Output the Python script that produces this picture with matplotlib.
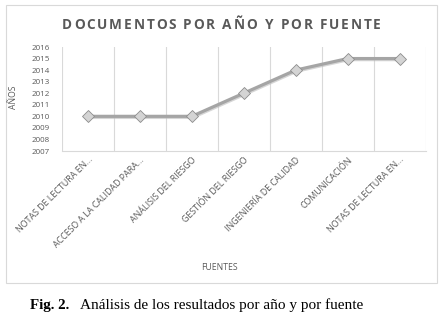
import matplotlib
matplotlib.use("Agg")
import matplotlib.pyplot as plt
import matplotlib.patheffects as pe
from matplotlib.patches import Rectangle
from matplotlib.textpath import TextPath
from matplotlib.font_manager import FontProperties
import numpy as np

categories = ["NOTAS DE LECTURA EN...", "ACCESO A LA CALIDAD PARA...", "ANÁLISIS DEL RIESGO",
              "GESTIÓN DEL RIESGO", "INGENIERÍA DE CALIDAD", "COMUNICACIÓN", "NOTAS DE LECTURA EN..."]
years = [2010, 2010, 2010, 2012, 2014, 2015, 2015]
yticks = list(range(2007, 2017))
title = "DOCUMENTOS POR AÑO Y POR FUENTE"

W, H = 441, 319
fig = plt.figure(figsize=(W / 100, H / 100), dpi=100)

def fx(px): return px / W
def fy(py): return 1 - py / H

# chart border
fig.patches.append(Rectangle((fx(5.5), fy(283)), fx(436.5) - fx(5.5), fy(5) - fy(283),
                             transform=fig.transFigure, fill=False, edgecolor="#D9D9D9", lw=0.8))

ax = fig.add_axes([fx(62), fy(151), fx(425.5) - fx(62), fy(47) - fy(151)])
x = np.arange(len(categories))
ax.set_xlim(-0.5, len(categories) - 0.5)
ax.set_ylim(2007, 2016)

ax.plot(x, years, color="#A5A5A5", lw=2.3, solid_joinstyle="round", solid_capstyle="round", zorder=3,
        path_effects=[pe.SimpleLineShadow(offset=(0.6, -0.8), shadow_color="#BBBBBB", alpha=0.6), pe.Normal()])
ax.plot(x, years, linestyle="none", marker="D", markersize=6.2, markerfacecolor="#D4D4D4",
        markeredgecolor="#8C8C8C", markeredgewidth=0.6, zorder=4)

# grid at category boundaries
ax.set_xticks(x)
ax.set_xticks(np.arange(-0.5, len(categories)), minor=True)
ax.grid(True, which="minor", axis="x", color="#D9D9D9", lw=0.8)
ax.tick_params(axis="x", which="both", length=0)
ax.set_xticklabels(categories, rotation=45, ha="right", va="top", rotation_mode="anchor",
                   fontsize=6.4, color="#595959", family="Open Sans")
ax.tick_params(axis="x", pad=3)
ax.set_yticks(yticks)
ax.set_yticklabels([str(v) for v in yticks], fontsize=5.8, color="#595959", family="Open Sans")
ax.tick_params(axis="y", length=0, pad=9)
for s in ["top", "right", "left"]:
    ax.spines[s].set_visible(False)
ax.spines["bottom"].set_color("#D9D9D9")
ax.spines["bottom"].set_linewidth(0.8)

fig.text(fx(14), fy(97), "AÑOS", rotation=90, ha="center", va="center", fontsize=6.2,
         color="#595959", family="Open Sans")
fig.text(fx(219), fy(268), "FUENTES", ha="center", va="center", fontsize=6.2,
         color="#595959", family="Open Sans")

# letter-spaced title, one glyph per text object
tsize = 9.8
fp = FontProperties(family="Open Sans", weight="bold", size=tsize)
k = 100 / 72  # pixels per point
hx = TextPath((0, 0), "H", prop=fp).get_extents().xmax
pens = []
for i, c in enumerate(title):
    pen = (TextPath((0, 0), title[:i] + "H", prop=fp).get_extents().xmax - hx) if i else 0.0
    pens.append(pen * k)
n = len(title)
last = TextPath((0, 0), title[-1], prop=fp).get_extents()
natural = pens[-1] + last.xmax * k
track = (318.0 - natural) / (n - 1)
for i, c in enumerate(title):
    if c == " ":
        continue
    xp = 62.0 + pens[i] + i * track
    fig.text(fx(xp), fy(29.3), c, ha="left", va="baseline", fontsize=tsize, fontweight="bold",
             color="#595959", family="Open Sans")

fig.text(fx(30), fy(305), "Fig. 2.", ha="left", va="center", fontsize=10.8, fontweight="bold",
         color="black", family="Liberation Serif")
fig.text(fx(80), fy(305), "Análisis de los resultados por año y por fuente", ha="left", va="center",
         fontsize=11, color="black", family="Liberation Serif")

fig.savefig("out.png", dpi=100)
